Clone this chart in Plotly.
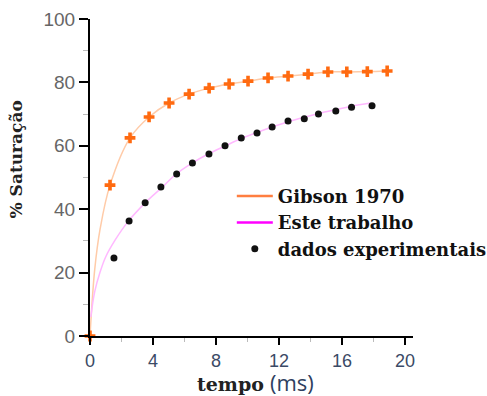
import plotly.graph_objects as go

# Gibson 1970 (orange crosses + fitted curve)
gibson_t = [0.0, 1.27, 2.54, 3.75, 5.02, 6.29, 7.56, 8.83, 10.03, 11.3, 12.57, 13.84, 15.1, 16.3, 17.6, 18.86]
gibson_y = [0.0, 47.6, 62.5, 69.1, 73.5, 76.3, 78.2, 79.5, 80.4, 81.4, 82.0, 82.6, 83.3, 83.3, 83.4, 83.6]
gibson_curve_t = [0.0, 0.3, 0.65, 1.27, 2.54, 3.75, 5.02, 6.29, 7.56, 8.83, 10.03, 11.3, 12.57, 13.84, 15.1, 16.3, 17.6, 18.86]
gibson_curve_y = [0.0, 21.0, 34.0, 47.6, 62.5, 69.1, 73.5, 76.3, 78.2, 79.5, 80.4, 81.4, 82.0, 82.6, 83.3, 83.3, 83.4, 83.6]

# Este trabalho (fitted curve)
este_t = [0.05, 0.3, 0.63, 1.0, 1.6, 2.4, 3.5, 4.6, 5.4, 6.5, 7.5, 8.6, 9.6, 10.6, 11.6, 12.6, 13.6, 14.6, 15.6, 16.6, 17.8]
este_y = [6.0, 14.0, 20.0, 25.0, 30.3, 36.0, 42.0, 47.0, 50.8, 54.6, 57.4, 60.0, 62.3, 64.2, 66.0, 67.6, 69.0, 70.3, 71.4, 72.5, 73.5]

# dados experimentais
dados_t = [1.52, 2.48, 3.5, 4.5, 5.5, 6.5, 7.55, 8.57, 9.6, 10.6, 11.56, 12.57, 13.6, 14.5, 15.6, 16.6, 17.9]
dados_y = [24.6, 36.3, 42.0, 47.0, 51.1, 54.6, 57.4, 60.0, 62.5, 64.0, 65.9, 67.8, 68.5, 70.0, 71.0, 72.2, 72.6]

x_ticks = [0, 4, 8, 12, 16, 20]
y_ticks = [0, 20, 40, 60, 80, 100]

fig = go.Figure()
fig.add_trace(go.Scatter(x=gibson_curve_t, y=gibson_curve_y, mode="lines",
                         line=dict(color="#FFCBA8", width=1.5, shape="spline"),
                         showlegend=False, hoverinfo="skip", cliponaxis=False))
fig.add_trace(go.Scatter(x=este_t, y=este_y, mode="lines",
                         line=dict(color="#FFB8FF", width=1.5, shape="spline"),
                         showlegend=False, hoverinfo="skip", cliponaxis=False))
fig.add_trace(go.Scatter(x=gibson_t, y=gibson_y, mode="markers",
                         marker=dict(symbol="cross", size=9, color="#FF6A10"),
                         showlegend=False, cliponaxis=False))
# legend entries
fig.add_trace(go.Scatter(x=[None], y=[None], mode="lines", name="Gibson 1970",
                         line=dict(color="#FF7E40", width=2.5)))
fig.add_trace(go.Scatter(x=[None], y=[None], mode="lines", name="Este trabalho",
                         line=dict(color="#FF00FF", width=2.5)))
fig.add_trace(go.Scatter(x=dados_t, y=dados_y, mode="markers", name="dados experimentais",
                         marker=dict(symbol="circle", size=7, color="#111111"),
                         cliponaxis=False))

fig.update_layout(
    width=487, height=396,
    margin=dict(l=90, r=74, t=19, b=60, autoexpand=False),
    plot_bgcolor="white", paper_bgcolor="white",
    showlegend=True,
    legend=dict(x=0.476, y=0.551, xref="container", yref="container",
                xanchor="left", yanchor="top",
                font=dict(family="DejaVu Serif", size=18, color="#111111", weight="bold"),
                bgcolor="rgba(0,0,0,0)", tracegroupgap=0, itemwidth=36),
    xaxis=dict(range=[0, 20.5], tickvals=x_ticks, ticktext=[str(v) for v in x_ticks],
               showgrid=False, zeroline=False, showline=True, linecolor="black", linewidth=2,
               ticks="outside", ticklen=7, tickwidth=2, tickcolor="black",
               tickfont=dict(family="Liberation Sans", size=18, color="#3b4a66"),
               minor=dict(dtick=2, tick0=0, ticks="outside", ticklen=4, tickcolor="#bbbbbb", tickwidth=1)),
    yaxis=dict(range=[0, 100], tickvals=y_ticks, ticktext=[str(v) for v in y_ticks],
               showgrid=False, zeroline=False, showline=True, linecolor="black", linewidth=2,
               ticks="outside", ticklen=9, tickwidth=2, tickcolor="black",
               tickfont=dict(family="Liberation Sans", size=19, color="#666666"),
               minor=dict(dtick=10, tick0=0, ticks="outside", ticklen=5, tickcolor="#bbbbbb", tickwidth=1)),
    annotations=[
        dict(text="<b>% Saturação</b>", xref="paper", yref="paper",
             x=-0.228, y=0.558, xanchor="center", yanchor="middle",
             textangle=-90, showarrow=False,
             font=dict(family="DejaVu Serif", size=17, color="#222222")),
        dict(text="<b>tempo</b> <span style='font-family:Open Sans;font-weight:normal;font-size:22px;color:#2f3f60'>(ms)</span>",
             xref="paper", yref="paper", x=0.511, y=-0.145, xanchor="center", yanchor="middle",
             showarrow=False, font=dict(family="DejaVu Serif", size=19, color="#222222")),
    ],
)

fig.write_html("out.html")
